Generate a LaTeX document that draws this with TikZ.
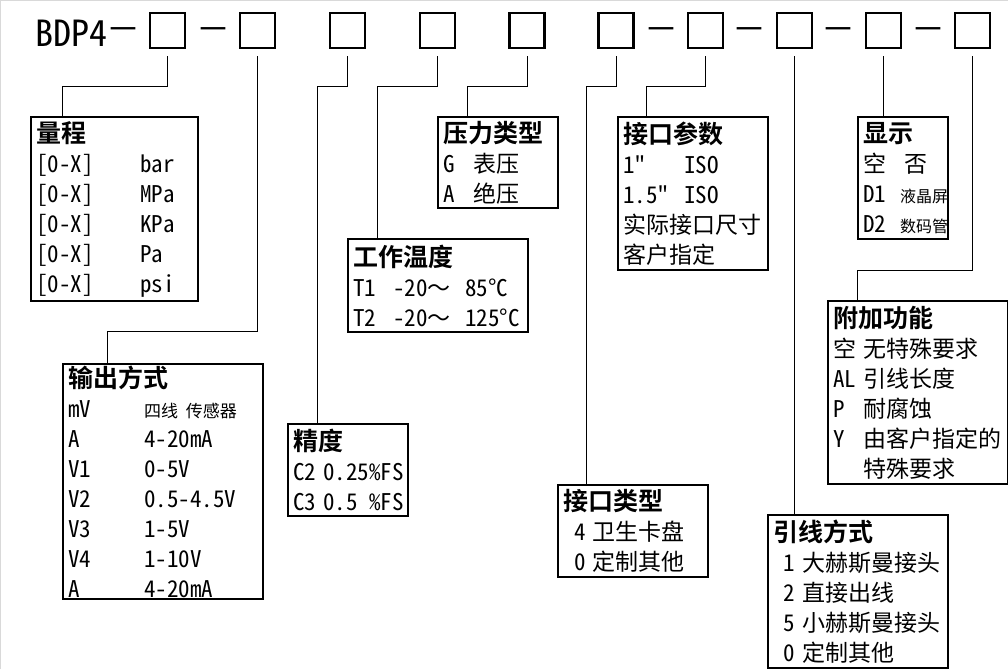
\documentclass[tikz,border=0pt]{standalone}
\usepackage{fontspec}
\setmainfont{Noto Sans Mono CJK SC}[Ligatures=TeXOff]
\usetikzlibrary{positioning}

\newcommand{\hd}[1]{{\bfseries\fontsize{25}{30}\selectfont #1}}
\newcommand{\kv}[3][30pt]{\makebox[#1][l]{#2}#3}
\newcommand{\sm}[2][16]{{\fontsize{#1}{30}\selectfont #2}}

\begin{document}
\begin{tikzpicture}[
  x=1pt, y=-1pt,
  box/.style={draw, line width=2.4pt, anchor=north west, inner xsep=5pt,
    inner ysep=0pt, align=left, font=\fontsize{23}{30}\selectfont},
  slot/.style={draw, line width=2.2pt, minimum size=35pt, inner sep=0pt},
  hyph/.style={inner sep=0pt, font=\fontsize{34}{34}\selectfont},
  wire/.style={line width=1pt},
]
  \useasboundingbox (0,0) rectangle (1008,669);
  \draw[gray!30, line width=1pt] (0.5,669) -- (0.5,0.5) -- (1008,0.5);

  % Model code
  \node[anchor=base west, inner sep=0pt, font=\fontsize{36}{36}\selectfont]
    (code) at (35,47) {BDP4};
  \node[hyph] (h1) at (123,35) {－};
  \node[slot] (q1) at (167.5,30.7) {};
  \node[hyph] (h2) at (213,35) {－};
  \node[slot] (q2) at (257.5,30.7) {};
  \node[slot] (q3) at (347.5,30.7) {};
  \node[slot] (q4) at (437.5,30.7) {};
  \node[slot] (q5) at (527,30.7) {};
  \node[slot] (q6) at (616,30.7) {};
  \node[hyph] (h3) at (661.5,35) {－};
  \node[slot] (q7) at (705.5,30.7) {};
  \node[hyph] (h4) at (749.5,35) {－};
  \node[slot] (q8) at (794.5,30.7) {};
  \node[hyph] (h5) at (838.5,35) {－};
  \node[slot] (q9) at (883.5,30.7) {};
  \node[hyph] (h6) at (928,35) {－};
  \node[slot] (q10) at (972.5,30.7) {};

  % Range
  \node[box, text width=157pt, minimum height=184pt] (range) at (30,116)
    {\hd{量程}\\
     \kv[104pt]{[0-X]}{bar}\\
     \kv[104pt]{[0-X]}{MPa}\\
     \kv[104pt]{[0-X]}{KPa}\\
     \kv[104pt]{[0-X]}{Pa}\\
     \kv[104pt]{[0-X]}{psi}};

  % Output
  \node[box, text width=190pt, minimum height=235pt] (output) at (62,363)
    {\hd{输出方式}\\
     \kv[76pt]{mV}{\sm[17]{四线 传感器}}\\
     \kv[76pt]{A}{4-20mA}\\
     \kv[76pt]{V1}{0-5V}\\
     \kv[76pt]{V2}{0.5-4.5V}\\
     \kv[76pt]{V3}{1-5V}\\
     \kv[76pt]{V4}{1-10V}\\
     \kv[76pt]{A}{4-20mA}};

  % Accuracy
  \node[box, text width=110pt, minimum height=92pt] (acc) at (287,423)
    {\hd{精度}\\
     \kv{C2}{0.25\%FS}\\
     \kv{C3}{0.5\phantom{5}\%FS}};

  % Temperature
  \node[box, text width=170pt, minimum height=93pt] (temp) at (347,238)
    {\hd{工作温度}\\
     \kv[40pt]{T1}{\makebox[72pt][l]{-20～}85°C}\\
     \kv[40pt]{T2}{\makebox[72pt][l]{-20～}125°C}};

  % Pressure type
  \node[box, text width=110pt, minimum height=91pt] (press) at (437,116)
    {\hd{压力类型}\\
     \kv{G}{表压}\\
     \kv{A}{绝压}};

  % Connection type
  \node[box, text width=140pt, minimum height=92pt] (conn) at (557,484)
    {\hd{接口类型}\\
     \kv[29pt]{\hspace*{11pt}4}{卫生卡盘}\\
     \kv[29pt]{\hspace*{11pt}0}{定制其他}};

  % Connection size
  \node[box, text width=140pt, minimum height=153pt] (param) at (617,116)
    {\hd{接口参数}\\
     \kv[61pt]{1"}{ISO}\\
     \kv[61pt]{1.5"}{ISO}\\
     实际接口尺寸\\
     客户指定};

  % Lead-out
  \node[box, text width=170pt, minimum height=153pt] (lead) at (767,514)
    {\hd{引线方式}\\
     \kv[29pt]{\hspace*{10pt}1}{大赫斯曼接头}\\
     \kv[29pt]{\hspace*{10pt}2}{直接出线}\\
     \kv[29pt]{\hspace*{10pt}5}{小赫斯曼接头}\\
     \kv[29pt]{\hspace*{10pt}0}{定制其他}};

  % Display
  \node[box, text width=80pt, minimum height=122pt] (disp) at (857,116)
    {\hd{显示}\\
     \kv[41pt]{空}{否}\\
     \kv[37pt]{D1}{\sm{液晶屏}}\\
     \kv[37pt]{D2}{\sm{数码管}}};

  % Extras
  \node[box, text width=169.5pt, minimum height=183pt] (extra) at (827,300)
    {\hd{附加功能}\\
     \kv{空}{无特殊要求}\\
     \kv{AL}{引线长度}\\
     \kv{P}{耐腐蚀}\\
     \kv{Y}{由客户指定的}\\
     \kv{}{特殊要求}};

  % Leaders
  \draw[wire] ([yshift=-7pt]q1.south) -- ++(0,30) -| ([xshift=32pt]range.north west);
  \draw[wire] ([yshift=-7pt]q2.south) -- ++(0,275) -| ([xshift=45pt]output.north west);
  \draw[wire] ([yshift=-7pt]q3.south) -- ++(0,30) -| ([xshift=30pt]acc.north west);
  \draw[wire] ([yshift=-7pt]q4.south) -- ++(0,30) -| ([xshift=30pt]temp.north west);
  \draw[wire] ([yshift=-7pt]q5.south) -- ++(0,30) -| ([xshift=30pt]press.north west);
  \draw[wire] ([yshift=-7pt]q6.south) -- ++(0,30) -| ([xshift=29pt]conn.north west);
  \draw[wire] ([yshift=-7pt]q7.south) -- ++(0,30) -| ([xshift=29pt]param.north west);
  \draw[wire] ([yshift=-7pt]q8.south) -- (q8.south |- lead.north);
  \draw[wire] ([yshift=-7pt]q9.south) -- (q9.south |- disp.north);
  \draw[wire] ([yshift=-7pt]q10.south) -- ++(0,214) -| ([xshift=30pt]extra.north west);
\end{tikzpicture}
\end{document}
